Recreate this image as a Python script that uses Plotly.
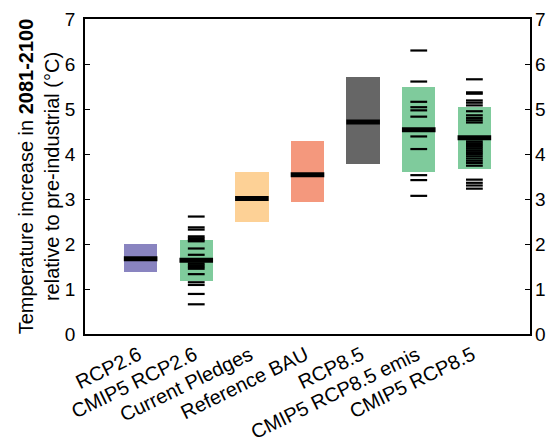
"""
Temperature increase in 2081-2100 per scenario: range boxes, medians and CMIP5 members.
"""

import plotly.graph_objects as go

categories = ["RCP2.6", "CMIP5 RCP2.6", "Current Pledges", "Reference BAU",
              "RCP8.5", "CMIP5 RCP8.5 emis", "CMIP5 RCP8.5"]
box_low = [1.37, 1.18, 2.50, 2.93, 3.78, 3.59, 3.67]
box_high = [2.00, 2.09, 3.61, 4.28, 5.71, 5.49, 5.04]
medians = [1.67, 1.64, 3.01, 3.54, 4.71, 4.54, 4.36]
box_colors = ["#8984c0", "#7fcb9c", "#fdd196", "#f4987d",
              "#666666", "#7fcb9c", "#7fcb9c"]

# individual model values (CMIP5 members)
cmip5_rcp26 = [2.61, 2.37, 2.32, 2.17, 2.13, 2.09, 2.06, 1.90, 1.76,
               1.57, 1.53, 1.49, 1.45, 1.33, 1.15, 1.09, 0.89, 0.66]
cmip5_rcp85_emis = [6.30, 5.61, 5.16, 5.04, 4.97, 4.83, 4.39, 4.11,
                    3.53, 3.42, 3.07]
cmip5_rcp85 = [5.66, 5.37, 5.34, 5.19, 5.14, 5.08, 4.95, 4.86, 4.80, 4.75,
               4.70, 4.28, 4.24, 4.20, 4.16, 4.12, 4.08, 4.04, 4.00, 3.95,
               3.90, 3.85, 3.80, 3.74, 3.43, 3.36, 3.30, 3.23]

y_ticks = [0, 1, 2, 3, 4, 5, 6, 7]

FONT = "Liberation Sans, Arial, Helvetica, sans-serif"

pos = list(range(1, len(categories) + 1))

fig = go.Figure()

fig.add_trace(go.Bar(
    x=pos,
    y=[h - l for l, h in zip(box_low, box_high)],
    base=box_low,
    width=0.6,
    marker=dict(color=box_colors, line=dict(width=0)),
    showlegend=False,
    hoverinfo="skip",
))

members = {
    categories.index("CMIP5 RCP2.6") + 1: cmip5_rcp26,
    categories.index("CMIP5 RCP8.5 emis") + 1: cmip5_rcp85_emis,
    categories.index("CMIP5 RCP8.5") + 1: cmip5_rcp85,
}
for p, vals in members.items():
    fig.add_trace(go.Scatter(
        x=[p] * len(vals),
        y=vals,
        mode="markers",
        marker=dict(symbol="line-ew", size=12,
                    line=dict(color="black", width=2.2)),
        showlegend=False,
    ))

fig.add_trace(go.Scatter(
    x=pos,
    y=medians,
    mode="markers",
    marker=dict(symbol="line-ew", size=24,
                line=dict(color="black", width=5)),
    showlegend=False,
))

# dummy trace so the right-hand axis gets drawn
fig.add_trace(go.Scatter(x=[None], y=[None], yaxis="y2", showlegend=False))

fig.update_layout(
    width=548,
    height=445,
    margin=dict(l=85, r=18, t=19, b=111),
    plot_bgcolor="white",
    paper_bgcolor="white",
    font=dict(family=FONT, size=19, color="black"),
    bargap=0,
    xaxis=dict(
        range=[0, 8],
        tickvals=pos,
        ticktext=categories,
        tickangle=-26,
        ticks="",
        showgrid=False,
        zeroline=False,
        showline=True,
        linecolor="black",
        linewidth=1.5,
        mirror=True,
        automargin=False,
        ticklabelshift=-2,
        ticklabelstandoff=0,
        tickfont=dict(size=20),
    ),
    yaxis=dict(
        range=[0, 7],
        tickvals=y_ticks,
        ticks="inside",
        ticklen=5,
        tickcolor="black",
        showgrid=False,
        zeroline=False,
        showline=True,
        linecolor="black",
        linewidth=1.5,
        mirror="ticks",
        automargin=False,
        ticklabelstandoff=4,
        title=dict(
            text="Temperature increase in <b>2081-2100</b><br>relative to pre-industrial (°C)",
            font=dict(size=20),
            standoff=0,
        ),
    ),
    yaxis2=dict(
        range=[0, 7],
        tickvals=y_ticks,
        overlaying="y",
        side="right",
        ticks="",
        showgrid=False,
        zeroline=False,
        showline=False,
        automargin=False,
        ticklabelstandoff=4,
    ),
)

# drop the browser's default body margin so the figure sits at the page corner
fig.write_html("out.html", config={"displayModeBar": False},
               post_script="document.body.style.margin = '0';")
